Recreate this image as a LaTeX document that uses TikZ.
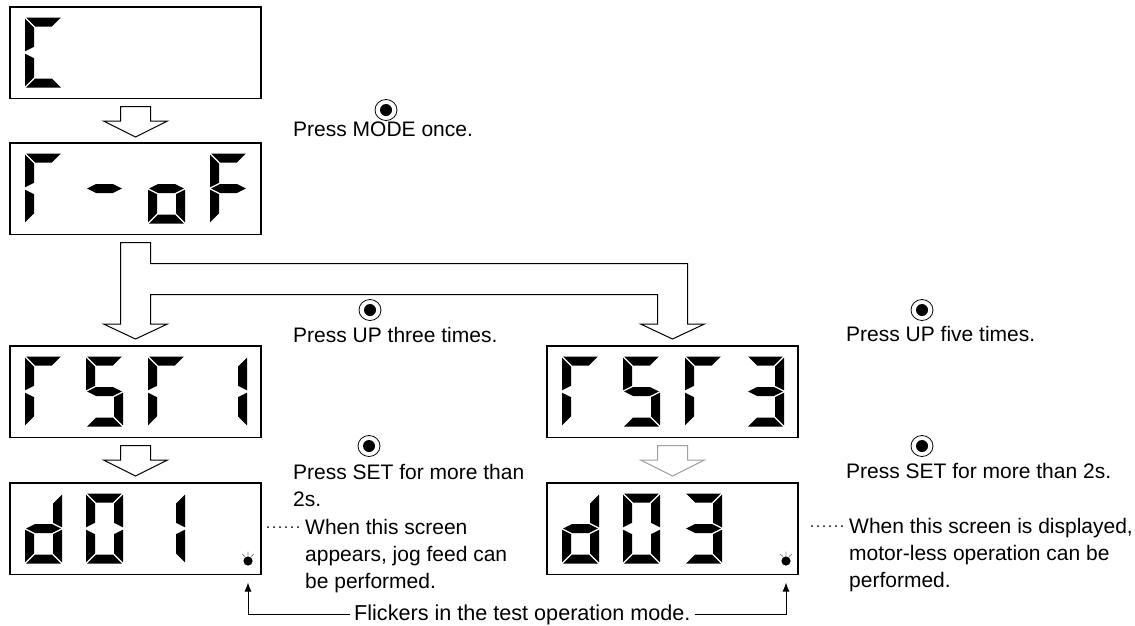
\documentclass[tikz,border=0pt]{standalone}
\usepackage{fontspec}
\setmainfont{Liberation Sans}
\usetikzlibrary{arrows.meta,calc}
% seven-segment pieces (W=37, H=70, t=9)
\newcommand{\sega}{\fill (1.2,0) -- (35.8,0) -- (26.8,9) -- (10.2,9) -- cycle;}
\newcommand{\segd}{\fill (1.2,70) -- (35.8,70) -- (26.8,61) -- (10.2,61) -- cycle;}
\newcommand{\segf}{\fill (0,1.2) -- (9,10.2) -- (9,29.3) -- (0,33.8) -- cycle;}
\newcommand{\sege}{\fill (0,36.2) -- (9,40.7) -- (9,59.8) -- (0,68.8) -- cycle;}
\newcommand{\segb}{\fill (37,1.2) -- (28,10.2) -- (28,29.3) -- (37,33.8) -- cycle;}
\newcommand{\segc}{\fill (37,36.2) -- (28,40.7) -- (28,59.8) -- (37,68.8) -- cycle;}
\newcommand{\segg}{\fill (1.2,35) -- (10.2,30.5) -- (26.8,30.5) -- (35.8,35) -- (26.8,39.5) -- (10.2,39.5) -- cycle;}
\newcommand{\sevdigit}[3]{%
  \begin{scope}[shift={($(#1.north west)+(#2,10.5)$)}]
    \foreach \s in {#3}{\csname seg\s\endcsname}
  \end{scope}}
\newcommand{\blockarr}[2]{%
  \draw[barrow,#2] ($(#1.south)+(-15,8)$) -- ++(30,0) -- ++(0,14.5) -- ++(17,0)
    -- ++(-32,16) -- ++(-32,-16) -- ++(17,0) -- cycle;}
\newcommand{\button}[1]{%
  \draw[line width=0.8pt] (#1) ellipse [x radius=11, y radius=10.5];
  \fill (#1) circle (6);}
\newcommand{\flicker}[1]{%
  \fill (#1) circle (4.6);
  \draw[gray, line width=0.7pt] ($(#1)+(0,-9.5)$) -- ($(#1)+(0,-5.5)$)
    ($(#1)+(-6,-7)$) -- ($(#1)+(-3,-4.5)$)
    ($(#1)+(6,-7)$) -- ($(#1)+(3,-4.5)$);}
\newcommand{\leader}[1]{%
  \foreach \i in {0,...,5}{\fill ($(#1)+(\i*6,0)$) circle (1);}}
\begin{document}
\begin{tikzpicture}[x=1pt,y=-1pt,
  dispbox/.style={draw, line width=1.3pt, minimum width=251pt, minimum height=91.5pt,
    inner sep=0pt, outer sep=0pt, anchor=north west},
  barrow/.style={draw, fill=white, line width=1pt, line join=miter},
  lbl/.style={anchor=base west, inner sep=0pt, font=\fontsize{21}{27}\selectfont},
  flk/.style={line width=1pt, -{Latex[length=9pt,width=7pt]}}]
\useasboundingbox (0,0) rectangle (1135,625);

% displays
\node[dispbox] (b1) at (10,7) {};
\node[dispbox] (b2) at (10,143) {};
\node[dispbox] (b3) at (10,346) {};
\node[dispbox] (b4) at (10,483) {};
\node[dispbox] (b5) at (547,346) {};
\node[dispbox] (b6) at (547,483) {};

% digits
\sevdigit{b1}{15}{a,f,e,d}
\sevdigit{b2}{15}{a,f,e}
\sevdigit{b2}{76}{g}
\sevdigit{b2}{138}{c,d,e,g}
\sevdigit{b2}{200}{a,f,g,e}
\sevdigit{b3}{15}{a,f,e}
\sevdigit{b3}{76}{a,f,g,c,d}
\sevdigit{b3}{138}{a,f,e}
\sevdigit{b3}{200}{b,c}
\sevdigit{b4}{15}{b,c,d,e,g}
\sevdigit{b4}{76}{a,b,c,d,e,f}
\sevdigit{b4}{138}{b,c}
\sevdigit{b5}{15}{a,f,e}
\sevdigit{b5}{76}{a,f,g,c,d}
\sevdigit{b5}{138}{a,f,e}
\sevdigit{b5}{200}{a,b,g,c,d}
\sevdigit{b6}{15}{b,c,d,e,g}
\sevdigit{b6}{76}{a,b,c,d,e,f}
\sevdigit{b6}{138}{a,b,g,c,d}

% block arrows
\blockarr{b1}{}
\blockarr{b3}{}
\blockarr{b5}{draw=gray!75}
\draw[barrow] ($(b2.south)+(-15,8)$) -- ++(30,0) -- ++(0,21)
  -- ($(b5.north)+(15,-82.5)$) -- ($(b5.north)+(15,-22)$) -- ++(17,0)
  -- ($(b5.north)+(0,-7)$) -- ++(-32,-15) -- ++(17,0) -- ++(0,-29.5)
  -- ($(b2.south)+(15,60)$) -- ($(b3.north)+(15,-22)$) -- ++(17,0)
  -- ($(b3.north)+(0,-7)$) -- ++(-32,-15) -- ++(17,0) -- cycle;

% buttons
\coordinate (k1) at (386,110);
\coordinate (k2) at (370,310);
\coordinate (k3) at (922,310);
\coordinate (k4) at (369,446);
\coordinate (k5) at (922,446);
\foreach \k in {k1,k2,k3,k4,k5}{\button{\k}}

% texts
\node[lbl] (t1) at (293,136) {Press MODE once.};
\node[lbl] (t2) at (293,342) {Press UP three times.};
\node[lbl] (t3) at (846,341) {Press UP five times.};
\node[lbl] (t4) at (293,479) {\begin{tabular}[t]{@{}l@{}}Press SET for more than\\2s.\end{tabular}};
\node[lbl] (t5) at (846,478) {Press SET for more than 2s.};
\node[lbl] (t6) at (305,534) {\begin{tabular}[t]{@{}l@{}}When this screen\\appears, jog feed can\\be performed.\end{tabular}};
\node[lbl] (t7) at (849,533) {\begin{tabular}[t]{@{}l@{}}When this screen is displayed,\\motor-less operation can be\\performed.\end{tabular}};
\node[lbl, inner xsep=4pt, font=\fontsize{21.6}{27}\selectfont] (t8) at (350,620) {Flickers in the test operation mode.};

% leaders
\coordinate (l1) at (268,527);
\coordinate (l2) at (812,526);
\leader{l1}
\leader{l2}

% flicker indicators and arrows
\coordinate (d1) at ($(b4.south east)+(-13,-13.5)$);
\coordinate (d2) at ($(b6.south east)+(-12,-13.5)$);
\flicker{d1}
\flicker{d2}
\coordinate (fl) at ($(b4.south east)+(-13,8)$);
\coordinate (fr) at ($(b6.south east)+(-12,8)$);
\draw[flk] (t8.west) -| (fl);
\draw[flk] (t8.east) -| (fr);
\end{tikzpicture}
\end{document}
